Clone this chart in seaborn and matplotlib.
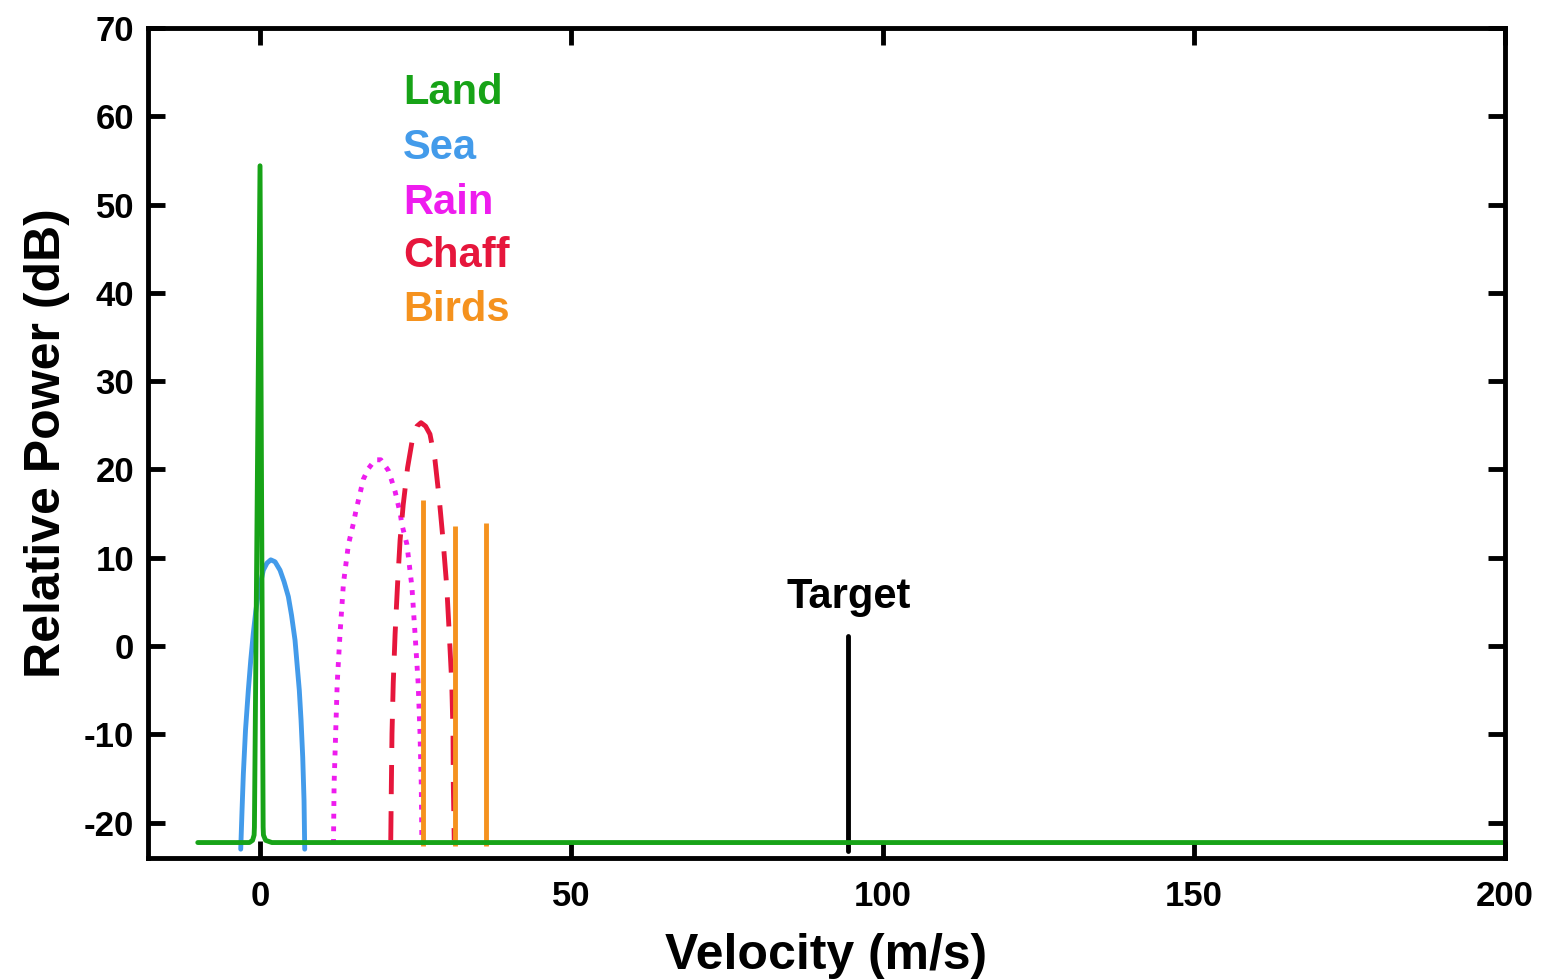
import matplotlib
matplotlib.use("Agg")
import matplotlib.pyplot as plt
import seaborn as sns

# ---------------- data ----------------
land_v = [-10, -1.7, -1.2, -0.95, -0.9, 0.0, 0.5, 0.55, 0.9, 1.9, 200]
land_db = [-22.25, -22.25, -22.0, -21.4, -20.5, 54.4, -20.5, -21.4, -22.0, -22.25, -22.25]

sea_v = [-3.10, -2.89, -2.68, -2.33, -1.88, -1.49, -1.08, -0.69, -0.27, 0.53, 1.12,
         1.72, 2.41, 3.21, 3.86, 4.55, 5.06, 5.62, 6.31, 6.59, 6.86, 7.07, 7.18]
sea_db = [-23.0, -18.6, -14.5, -9.5, -5.0, -1.6, 1.44, 3.9, 6.0, 8.6, 9.4,
          9.77, 9.55, 8.6, 7.3, 5.6, 3.5, 0.68, -5.0, -8.4, -12.6, -17.5, -23.0]

rain_v = [11.8, 11.9, 12.15, 12.4, 12.85, 13.4, 14.2, 15.0, 15.4, 15.8, 16.2, 16.6,
          17.4, 18.5, 19.4, 20.6, 21.15, 21.7, 22.1, 22.5, 22.8, 23.6, 24.4, 24.9,
          25.4, 25.7, 25.9, 26.0]
rain_db = [-22.4, -15.6, -9.9, -4.2, 1.4, 7.1, 11.5, 13.9, 15.3, 16.5, 17.7, 18.9,
           20.1, 21.1, 21.1, 19.9, 18.75, 17.5, 16.3, 15.1, 13.75, 11.5, 6.7, 1.4,
           -4.2, -9.9, -15.6, -22.4]

chaff_v = [21.0, 21.1, 21.2, 21.4, 21.7, 22.1, 22.5, 23.0, 23.7, 24.5, 25.2, 25.86,
           26.6, 27.3, 28.1, 28.8, 29.4, 30.0, 30.4, 30.8, 31.0, 31.05, 31.2]
chaff_db = [-22.0, -15.6, -9.9, -4.2, 1.4, 7.1, 12.0, 16.0, 20.2, 23.5, 24.9, 25.3,
            24.9, 24.0, 21.1, 16.6, 12.0, 6.7, 1.4, -4.2, -9.9, -15.6, -22.0]

birds_v = [26.2, 31.3, 36.3]
birds_top = [16.6, 13.6, 13.9]
birds_bottom = -22.6

target_v = [94.5, 94.5]
target_db = [-23.2, 1.1]

labels = ["Land", "Sea", "Rain", "Chaff", "Birds"]
label_y = [62.6, 56.4, 50.2, 44.2, 38.1]

c_land = "#17a317"
c_sea = "#439bea"
c_rain = "#ee1cee"
c_chaff = "#e6163c"
c_birds = "#f5921e"
colors = [c_land, c_sea, c_rain, c_chaff, c_birds]

# ---------------- plot ----------------
sns.set_theme(style="ticks")
plt.rcParams["font.family"] = ["Liberation Sans", "DejaVu Sans"]
plt.rcParams["font.weight"] = "bold"
plt.rcParams["axes.unicode_minus"] = False
plt.rcParams["text.color"] = "black"
plt.rcParams["xtick.color"] = "black"
plt.rcParams["ytick.color"] = "black"
plt.rcParams["axes.labelcolor"] = "black"

fig = plt.figure(figsize=(15.43, 9.8), dpi=100)
ax = fig.add_axes([0.0959, 0.1245, 0.8795, 0.8469])

lw = 3.5
sns.lineplot(x=sea_v, y=sea_db, sort=False, estimator=None, color=c_sea, lw=lw, ax=ax)
sns.lineplot(x=rain_v, y=rain_db, sort=False, estimator=None, color=c_rain, lw=lw,
             ax=ax, linestyle=(0, (1.0, 1.6)))
sns.lineplot(x=chaff_v, y=chaff_db, sort=False, estimator=None, color=c_chaff, lw=lw,
             ax=ax, linestyle=(0, (6, 3.5)))
ax.vlines(birds_v, birds_bottom, birds_top, color=c_birds, lw=lw)
sns.lineplot(x=target_v, y=target_db, sort=False, estimator=None, color="black", lw=lw, ax=ax)
sns.lineplot(x=land_v, y=land_db, sort=False, estimator=None, color=c_land, lw=lw, ax=ax)

for lab, yy, cc in zip(labels, label_y, colors):
    ax.text(23.0, yy, lab, color=cc, fontsize=30, fontweight="bold", ha="left", va="center")
ax.text(94.5, 5.6, "Target", color="black", fontsize=30, fontweight="bold", ha="center", va="center")

ax.set_xlim(-18, 200)
ax.set_ylim(-24, 70)
ax.set_xticks([0, 50, 100, 150, 200])
ax.set_yticks(list(range(-20, 71, 10)))
ax.tick_params(direction="in", length=12, width=3.5, top=True, right=True,
               labelsize=25, colors="black")
ax.tick_params(axis="x", pad=16)
ax.tick_params(axis="y", pad=10)
for t in ax.get_xticklabels() + ax.get_yticklabels():
    t.set_fontweight("bold")
for s in ax.spines.values():
    s.set_visible(True)
    s.set_linewidth(3.5)
    s.set_color("black")

ax.set_xlabel("Velocity (m/s)", fontsize=36, fontweight="bold", labelpad=14)
ax.set_ylabel("Relative Power (dB)", fontsize=36, fontweight="bold", labelpad=10)

fig.savefig("out.png", dpi=100)
